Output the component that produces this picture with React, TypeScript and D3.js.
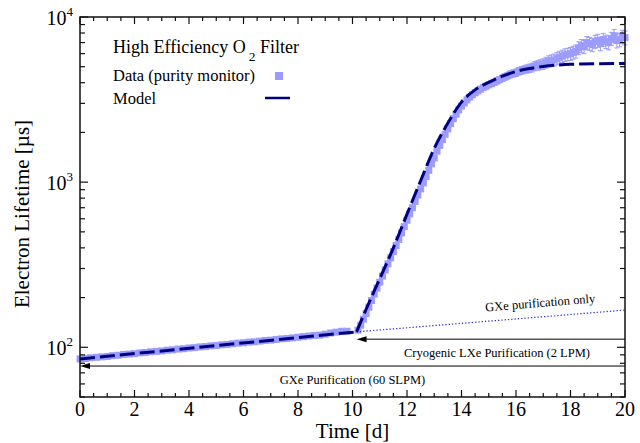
import React, { useEffect, useRef } from "react";
import * as d3 from "d3";

// purity monitor data, GXe purification phase (days, µs)
const earlyTimes = [
  0.0, 0.2, 0.4, 0.6, 0.8, 1.0, 1.2, 1.4, 1.6, 1.8, 2.0, 2.2, 2.4, 2.6, 2.8, 3.0, 3.2, 3.4, 3.6, 3.8,
  4.0, 4.2, 4.4, 4.6, 4.8, 5.0, 5.2, 5.4, 5.6, 5.8, 6.0, 6.2, 6.4, 6.6, 6.8, 7.0, 7.2, 7.4, 7.6, 7.8,
  8.0, 8.2, 8.4, 8.6, 8.8, 9.0, 9.2, 9.4, 9.6, 9.8,
];
const earlyValues = [
  85, 85.5, 86.5, 87, 87.5, 88, 89, 89.5, 90.5, 91, 91.5, 92.5, 93, 94, 94.5, 95, 96, 96.5, 97.5, 98,
  99, 99.5, 100.5, 101, 102, 102.5, 103.5, 104, 105, 106, 106.5, 107.5, 108, 109, 110, 110.5, 111.5, 112.5, 113, 114,
  115, 116, 117, 118, 118.5, 120, 122, 123.5, 125, 125,
];
const earlyError = 1.5;

// purity monitor data, after the cryogenic LXe purification starts
const riseTimes = [
  10.2, 10.3, 10.4, 10.5, 10.6, 10.7, 10.8, 10.9, 11.0,
  11.1, 11.2, 11.3, 11.4, 11.5, 11.6, 11.7, 11.8, 11.9, 12.0,
  12.1, 12.2, 12.3, 12.4, 12.5, 12.6, 12.7, 12.8, 12.9, 13.0,
  13.1, 13.2, 13.3, 13.4, 13.5, 13.6, 13.7, 13.8, 13.9, 14.0,
  14.1, 14.2, 14.3, 14.4, 14.5, 14.6, 14.7, 14.8, 14.9, 15.0,
  15.1, 15.2, 15.3, 15.4, 15.5, 15.6, 15.7, 15.8, 15.9, 16.0,
  16.1, 16.2, 16.3, 16.4, 16.5, 16.6, 16.7, 16.8, 16.9, 17.0,
  17.1, 17.2, 17.3, 17.4, 17.5, 17.6, 17.7, 17.8, 17.9, 18.0,
  18.1, 18.2, 18.3, 18.4, 18.5, 18.6, 18.7, 18.8, 18.9, 19.0,
  19.1, 19.2, 19.3, 19.4, 19.5, 19.6, 19.7, 19.8, 19.9, 20.0,
];
const riseValues = [
  127, 136, 148, 160, 175, 192, 210, 228, 248,
  270, 294, 320, 348, 380, 413, 450, 492, 538, 588,
  642, 700, 765, 835, 910, 990, 1080, 1180, 1290, 1400,
  1540, 1670, 1810, 1950, 2100, 2260, 2420, 2580, 2740, 2890,
  3020, 3150, 3270, 3380, 3480, 3570, 3660, 3740, 3810, 3880,
  3950, 4020, 4100, 4180, 4260, 4340, 4420, 4500, 4560, 4600,
  4700, 4750, 4800, 4850, 4900, 4950, 5050, 5100, 5150, 5200,
  5300, 5400, 5450, 5500, 5600, 5700, 5800, 5900, 5950, 6000,
  6100, 6200, 6500, 6700, 6600, 7000, 6900, 6800, 7100, 7200,
  6900, 7300, 7100, 7000, 7400, 7700, 7200, 7300, 7600, 7500,
];
const riseErrors = [
  3, 3, 4, 4, 5, 5, 6, 6, 7,
  8, 8, 9, 10, 11, 12, 13, 15, 16, 18,
  20, 22, 24, 26, 28, 30, 33, 36, 40, 44,
  48, 52, 56, 60, 65, 70, 75, 80, 85, 90,
  95, 100, 105, 110, 115, 120, 125, 130, 135, 140,
  150, 160, 170, 180, 190, 200, 210, 220, 230, 240,
  250, 260, 270, 280, 290, 300, 320, 340, 360, 380,
  400, 420, 440, 460, 480, 500, 500, 520, 520, 540,
  550, 560, 580, 600, 600, 620, 620, 640, 640, 650,
  650, 660, 660, 680, 680, 700, 700, 700, 720, 720,
];

// model
const modelEarlyTimes = [0, 10.15];
const modelEarlyValues = [85, 124];
const modelRiseTimes = [10.15, 10.5, 11, 11.5, 12, 12.5, 13, 13.5, 14, 14.5, 15, 15.5, 16, 16.5, 17, 17.5, 18, 19, 20];
const modelRiseValues = [124, 170, 260, 400, 640, 1020, 1600, 2280, 3050, 3620, 4020, 4380, 4680, 4880, 5020, 5110, 5170, 5210, 5230];

// GXe purification only extrapolation
const gxeOnlyTimes = [10.15, 20];
const gxeOnlyValues = [124, 168];

// annotation arrows: [from t, to t, level µs]
const lxeArrow = [20, 10.15, 112];
const gxeArrow = [20, 0, 77];

const FONT = "Liberation Serif, Times New Roman, Times, DejaVu Serif, serif";
const DATA_COLOR = "#9c9cff";
const MODEL_COLOR = "#000080";

const App: React.FC = () => {
  const svgRef = useRef<SVGSVGElement | null>(null);

  useEffect(() => {
    const width = 640;
    const height = 443;
    const margin = { top: 17, right: 15, bottom: 46, left: 80 };

    const svg = d3.select(svgRef.current);
    svg.selectAll("*").remove();
    svg.attr("width", width).attr("height", height).style("font-family", FONT);

    const x = d3.scaleLinear().domain([0, 20]).range([margin.left, width - margin.right]);
    const y = d3.scaleLog().domain([50, 10000]).range([height - margin.bottom, margin.top]);
    const x0 = margin.left, x1 = width - margin.right;
    const y0 = height - margin.bottom, y1 = margin.top;

    const points = [
      ...earlyTimes.map((t, i) => ({ t, v: earlyValues[i], e: earlyError })),
      ...riseTimes.map((t, i) => ({ t, v: riseValues[i], e: riseErrors[i] })),
    ];

    // Error bars
    const eb = svg.append("g").attr("stroke", DATA_COLOR).attr("stroke-width", 1);
    points.forEach(p => {
      const cx = x(p.t);
      eb.append("line").attr("x1", cx).attr("x2", cx).attr("y1", y(p.v - p.e)).attr("y2", y(p.v + p.e));
      eb.append("line").attr("x1", cx - 2.5).attr("x2", cx + 2.5).attr("y1", y(p.v - p.e)).attr("y2", y(p.v - p.e));
      eb.append("line").attr("x1", cx - 2.5).attr("x2", cx + 2.5).attr("y1", y(p.v + p.e)).attr("y2", y(p.v + p.e));
    });

    // Data squares
    svg
      .append("g")
      .selectAll("rect")
      .data(points)
      .join("rect")
      .attr("x", d => x(d.t) - 3.5)
      .attr("y", d => y(d.v) - 3.5)
      .attr("width", 7)
      .attr("height", 7)
      .attr("fill", DATA_COLOR);

    // GXe only extrapolation
    const lin = d3.line<number>().x(t => x(t)).y((t, i) => y(gxeOnlyValues[i]));
    svg
      .append("path")
      .attr("d", lin(gxeOnlyTimes))
      .attr("fill", "none")
      .attr("stroke", "#2a2ad0")
      .attr("stroke-width", 1.2)
      .attr("stroke-dasharray", "1.3,2");

    // Model
    const earlyLine = d3.line<number>().x(t => x(t)).y((t, i) => y(modelEarlyValues[i]));
    const riseLine = d3
      .line<number>()
      .x(t => x(t))
      .y((t, i) => y(modelRiseValues[i]))
      .curve(d3.curveMonotoneX);
    [earlyLine(modelEarlyTimes), riseLine(modelRiseTimes)].forEach(d => {
      svg
        .append("path")
        .attr("d", d)
        .attr("fill", "none")
        .attr("stroke", MODEL_COLOR)
        .attr("stroke-width", 3)
        .attr("stroke-dasharray", "15,5");
    });

    // Annotation arrows
    const arrow = (a: number[], label: string, labelT: number) => {
      const ay = y(a[2]);
      svg
        .append("line")
        .attr("x1", x(a[0]))
        .attr("x2", x(a[1]) + 6)
        .attr("y1", ay)
        .attr("y2", ay)
        .attr("stroke", "#000")
        .attr("stroke-width", 1);
      const tip = x(a[1]);
      svg
        .append("path")
        .attr("d", `M${tip},${ay}L${tip + 10},${ay - 3}L${tip + 10},${ay + 3}Z`)
        .attr("fill", "#000");
      svg
        .append("text")
        .attr("x", x(labelT))
        .attr("y", ay + 18)
        .attr("text-anchor", "middle")
        .attr("font-size", 12.5)
        .text(label);
    };
    arrow(lxeArrow, "Cryogenic LXe Purification (2 LPM)", 15.3);
    arrow(gxeArrow, "GXe Purification (60 SLPM)", 10);

    // GXe only label, along the dotted line
    const gx0 = x(gxeOnlyTimes[0]), gy0 = y(gxeOnlyValues[0]);
    const gx1 = x(gxeOnlyTimes[1]), gy1 = y(gxeOnlyValues[1]);
    const angle = (Math.atan2(gy1 - gy0, gx1 - gx0) * 180) / Math.PI;
    const lx = x(16.9);
    const ly = gy0 + ((lx - gx0) / (gx1 - gx0)) * (gy1 - gy0) - 10;
    svg
      .append("text")
      .attr("transform", `translate(${lx},${ly}) rotate(${angle})`)
      .attr("text-anchor", "middle")
      .attr("font-size", 12.5)
      .text("GXe purification only");

    // Frame
    svg
      .append("rect")
      .attr("x", x0)
      .attr("y", y1)
      .attr("width", x1 - x0)
      .attr("height", y0 - y1)
      .attr("fill", "none")
      .attr("stroke", "#111")
      .attr("stroke-width", 1.5);

    // Ticks
    const ticks = svg.append("g").attr("stroke", "#111").attr("stroke-width", 1.2);
    x.ticks(40).forEach(t => {
      const len = t % 2 === 0 ? 7 : 4;
      ticks.append("line").attr("x1", x(t)).attr("x2", x(t)).attr("y1", y0).attr("y2", y0 - len);
      ticks.append("line").attr("x1", x(t)).attr("x2", x(t)).attr("y1", y1).attr("y2", y1 + len);
    });
    y.ticks().forEach(v => {
      const lg = Math.log10(v);
      const len = Math.abs(lg - Math.round(lg)) < 1e-9 ? 8 : 5;
      ticks.append("line").attr("x1", x0).attr("x2", x0 + len).attr("y1", y(v)).attr("y2", y(v));
      ticks.append("line").attr("x1", x1).attr("x2", x1 - len).attr("y1", y(v)).attr("y2", y(v));
    });

    // X tick labels
    svg
      .append("g")
      .selectAll("text")
      .data(x.ticks(10))
      .join("text")
      .attr("x", d => x(d))
      .attr("y", y0 + 19)
      .attr("text-anchor", "middle")
      .attr("font-size", 20)
      .text(d => d);

    // Y tick labels
    [100, 1000, 10000].forEach(v => {
      const t = svg
        .append("text")
        .attr("x", x0 - 7)
        .attr("y", y(v) + 8)
        .attr("text-anchor", "end")
        .attr("font-size", 20);
      t.append("tspan").text("10");
      t.append("tspan").attr("dy", -9).attr("font-size", 13).text(Math.round(Math.log10(v)));
    });

    // Axis titles
    svg
      .append("text")
      .attr("x", (x0 + x1) / 2)
      .attr("y", 438)
      .attr("text-anchor", "middle")
      .attr("font-size", 21)
      .text("Time [d]");
    svg
      .append("text")
      .attr("transform", `translate(29,${214}) rotate(-90)`)
      .attr("text-anchor", "middle")
      .attr("font-size", 21)
      .text("Electron Lifetime [µs]");

    // Legend
    const legend = svg.append("g");
    const title = legend.append("text").attr("x", 113).attr("y", 53).attr("font-size", 18);
    title.append("tspan").text("High Efficiency O");
    title.append("tspan").attr("dx", 3).attr("dy", 8).attr("font-size", 13.5).text("2");
    title.append("tspan").attr("dy", -8).text(" Filter");
    legend.append("text").attr("x", 113).attr("y", 81).attr("font-size", 16.5).text("Data (purity monitor)");
    legend.append("text").attr("x", 113).attr("y", 104).attr("font-size", 16.5).text("Model");
    legend.append("rect").attr("x", 275).attr("y", 72).attr("width", 8).attr("height", 8).attr("fill", DATA_COLOR);
    legend
      .append("line")
      .attr("x1", 265)
      .attr("x2", 290)
      .attr("y1", 98)
      .attr("y2", 98)
      .attr("stroke", MODEL_COLOR)
      .attr("stroke-width", 2.5);
  }, []);

  return (
    <svg
      ref={svgRef}
      style={{ position: "absolute", left: 0, top: 0, background: "#fff" }}
    ></svg>
  );
};

export default App;
